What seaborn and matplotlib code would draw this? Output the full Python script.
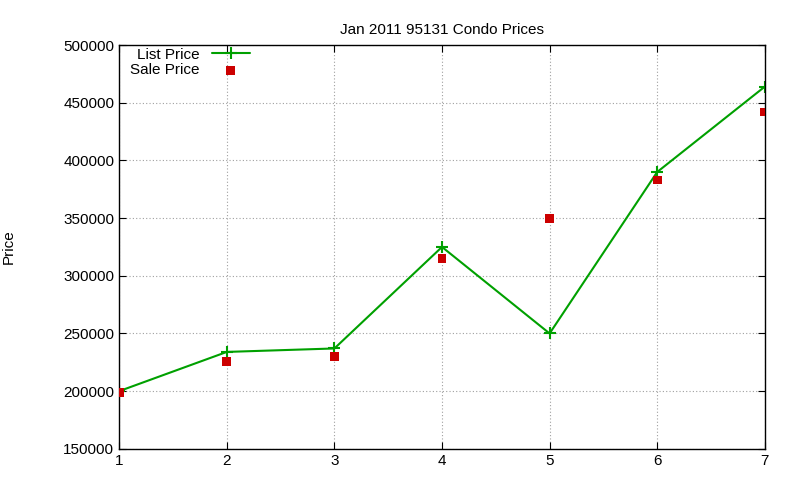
import matplotlib
matplotlib.use("Agg")
import matplotlib.pyplot as plt
import seaborn as sns
import pandas as pd

x = [1, 2, 3, 4, 5, 6, 7]
list_price = [200000, 234000, 237000, 325000, 250000, 390000, 464000]
sale_price = [199000, 226000, 230000, 315000, 350000, 383000, 442000]

sns.set_style("white")
plt.rcParams['font.family'] = ['Liberation Sans', 'DejaVu Sans']
plt.rcParams['text.color'] = 'black'
plt.rcParams['xtick.color'] = 'black'
plt.rcParams['ytick.color'] = 'black'
plt.rcParams['axes.labelcolor'] = 'black'
fig = plt.figure(figsize=(8, 4.8), dpi=100)
ax = fig.add_axes([0.149, 0.065, 0.807, 0.841])
df = pd.DataFrame({"x": x, "list": list_price, "sale": sale_price})
sns.lineplot(data=df, x="x", y="list", ax=ax, color="#00a000", lw=1.5,
             marker="+", markersize=9, mew=1.5, markeredgecolor="#00a000",
             label="List Price")
sns.scatterplot(data=df, x="x", y="sale", ax=ax, color="#cc0000", marker="s",
                s=40, edgecolor="none", label="Sale Price", zorder=3)
ax.set_xlim(1, 7)
ax.set_ylim(150000, 500000)
ax.set_xticks(x)
ax.set_yticks(range(150000, 500001, 50000))
ax.ticklabel_format(style="plain", axis="y")
ax.grid(True, color="#a0a0a0", linestyle=(0, (1, 2)), lw=0.8)
for s in ax.spines.values():
    s.set_color("black"); s.set_linewidth(1)
ax.tick_params(labelsize=11, direction="in", length=5, left=True, bottom=True, right=True, top=True)
ax.set_xlabel("")
ax.set_ylabel("Price", fontsize=11)
ax.yaxis.set_label_coords(-0.16, 0.5)
ax.set_title("Jan 2011 95131 Condo Prices", fontsize=11, pad=8)
ax.legend(loc="upper left", frameon=False, markerfirst=False, fontsize=11,
          bbox_to_anchor=(0.0, 1.02), handlelength=2.5, borderaxespad=0.3, labelspacing=0.1)
fig.savefig("out.png", dpi=100)
